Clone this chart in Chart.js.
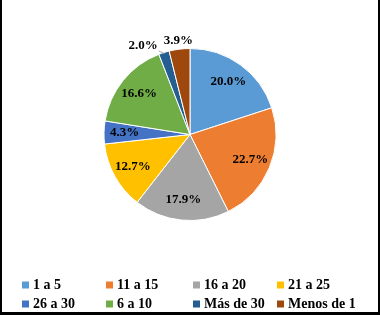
<!DOCTYPE html>
<html>
<head>
<meta charset="utf-8">
<script src="https://cdn.jsdelivr.net/npm/chart.js@4"></script>
<style>
  body { margin: 0; background: #fff; }
  #wrap { width: 380px; height: 315px; position: relative; }
</style>
</head>
<body>
<div id="wrap"><canvas id="pieChart" width="380" height="315"></canvas></div>
<script>
// data
const categories = ['1 a 5', '11 a 15', '16 a 20', '21 a 25', '26 a 30', '6 a 10', 'Más de 30', 'Menos de 1'];
const percents = [20.0, 22.7, 17.9, 12.7, 4.3, 16.6, 2.0, 3.9];
const colors = ['#5B9BD5', '#ED7D31', '#A5A5A5', '#FFC000', '#4472C4', '#70AD47', '#255E91', '#9E480E'];

const labelFont = 'bold 13px "Liberation Serif", "Times New Roman", serif';
const legendFont = 'bold 14px "Liberation Serif", "Times New Roman", serif';

// percentage labels: inside for big slices, above the pie for small ones
const sliceLabels = {
    id: 'sliceLabels',
    afterDatasetsDraw(chart) {
        const ctx = chart.ctx;
        const arcs = chart.getDatasetMeta(0).data;
        ctx.save();
        ctx.font = labelFont;
        ctx.fillStyle = '#000';
        ctx.textAlign = 'center';
        ctx.textBaseline = 'middle';
        let prevLeft = null;
        for (let i = arcs.length - 1; i >= 0; i--) {
            const a = arcs[i];
            const mid = (a.startAngle + a.endAngle) / 2;
            const txt = percents[i].toFixed(1) + '%';
            const w = ctx.measureText(txt).width;
            if (percents[i] < 4) {
                let x = a.x + Math.cos(mid) * (a.outerRadius + 9);
                let y = a.y + Math.sin(mid) * (a.outerRadius + 9);
                if (prevLeft !== null && x + w / 2 > prevLeft - 6) {
                    x = prevLeft - 6 - w / 2;
                    y += 2;
                    // leader line to the slice
                    ctx.strokeStyle = '#a6a6a6';
                    ctx.lineWidth = 1;
                    ctx.beginPath();
                    ctx.moveTo(x + w / 2 + 1, y + 5);
                    ctx.lineTo(a.x + Math.cos(mid) * (a.outerRadius - 1), a.y + Math.sin(mid) * (a.outerRadius - 1));
                    ctx.stroke();
                }
                ctx.fillText(txt, x, y);
                prevLeft = x - w / 2;
            } else {
                const r = a.outerRadius * 0.76;
                ctx.fillText(txt, a.x + Math.cos(mid) * r, a.y + Math.sin(mid) * r);
            }
        }
        ctx.restore();
    }
};

// legend in a fixed 4-column grid, plus the frame
const gridLegend = {
    id: 'gridLegend',
    afterDraw(chart) {
        const ctx = chart.ctx;
        const colX = [22, 106, 193, 277];
        const rowY = [285, 304];
        ctx.save();
        ctx.font = legendFont;
        ctx.textBaseline = 'middle';
        ctx.textAlign = 'left';
        chart.data.labels.forEach((lab, i) => {
            const x = colX[i % 4];
            const y = rowY[Math.floor(i / 4)];
            ctx.fillStyle = chart.data.datasets[0].backgroundColor[i];
            ctx.fillRect(x, y - 3.5, 7, 7);
            ctx.fillStyle = '#000';
            ctx.fillText(lab, x + 11, y);
        });
        ctx.fillStyle = '#000';
        ctx.fillRect(0, 0, 2, 315);
        ctx.fillRect(378, 0, 2, 315);
        ctx.fillRect(0, 312, 380, 3);
        ctx.restore();
    }
};

new Chart(document.getElementById('pieChart'), {
    type: 'pie',
    data: {
        labels: categories,
        datasets: [{
            data: percents,
            backgroundColor: colors,
            borderColor: '#fff',
            borderWidth: 1
        }]
    },
    options: {
        responsive: false,
        animation: false,
        layout: { padding: { top: 48, bottom: 94, left: 0, right: 0 } },
        plugins: {
            legend: { display: false },
            tooltip: { enabled: false }
        }
    },
    plugins: [sliceLabels, gridLegend]
});
</script>
</body>
</html>
